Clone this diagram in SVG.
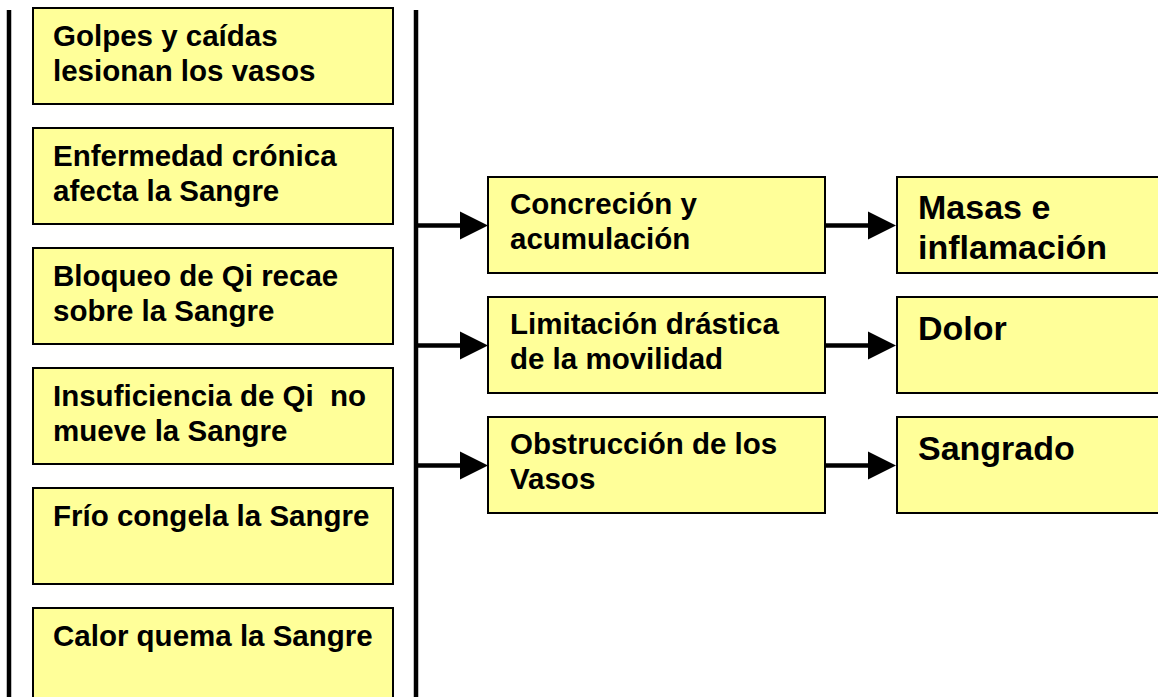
<svg xmlns="http://www.w3.org/2000/svg" width="1158" height="697" viewBox="0 0 1158 697">
<style>
.box{fill:#FFFF99;stroke:#000;stroke-width:2}
.t{font-family:"Liberation Sans",Arial,sans-serif;font-weight:bold;font-size:29.5px;fill:#000}
.tb{font-family:"Liberation Sans",Arial,sans-serif;font-weight:bold;font-size:34px;fill:#000}
.ln{stroke:#000;stroke-width:4.5;fill:none}
.ah{fill:#000}
</style>
<rect width="1158" height="697" fill="#fff"/>
<g id="connectors">
<line class="ln" x1="9" y1="10" x2="9" y2="697"/>
<line class="ln" x1="416" y1="10" x2="416" y2="697"/>
<line class="ln" x1="416" y1="225.5" x2="462" y2="225.5"/>
<polygon class="ah" points="460,211.5 488,225.5 460,239.5"/>
<line class="ln" x1="416" y1="345.5" x2="462" y2="345.5"/>
<polygon class="ah" points="460,331.5 488,345.5 460,359.5"/>
<line class="ln" x1="416" y1="465.5" x2="462" y2="465.5"/>
<polygon class="ah" points="460,451.5 488,465.5 460,479.5"/>
<line class="ln" x1="825" y1="225.5" x2="870" y2="225.5"/>
<polygon class="ah" points="868,211.5 896,225.5 868,239.5"/>
<line class="ln" x1="825" y1="345.5" x2="870" y2="345.5"/>
<polygon class="ah" points="868,331.5 896,345.5 868,359.5"/>
<line class="ln" x1="825" y1="465.5" x2="870" y2="465.5"/>
<polygon class="ah" points="868,451.5 896,465.5 868,479.5"/>
</g>
<g id="n1"><rect class="box" x="33" y="8" width="360" height="96"/><text class="t" x="53" y="45.5">Golpes y caídas</text><text class="t" x="53" y="80.5">lesionan los vasos</text></g>
<g id="n2"><rect class="box" x="33" y="128" width="360" height="96"/><text class="t" x="53" y="165.5">Enfermedad crónica</text><text class="t" x="53" y="200.5">afecta la Sangre</text></g>
<g id="n3"><rect class="box" x="33" y="248" width="360" height="96"/><text class="t" x="53" y="285.5">Bloqueo de Qi recae</text><text class="t" x="53" y="320.5">sobre la Sangre</text></g>
<g id="n4"><rect class="box" x="33" y="368" width="360" height="96"/><text class="t" x="53" y="405.5" xml:space="preserve">Insuficiencia de Qi  no</text><text class="t" x="53" y="440.5">mueve la Sangre</text></g>
<g id="n5"><rect class="box" x="33" y="488" width="360" height="96"/><text class="t" x="53" y="525.5">Frío congela la Sangre</text></g>
<g id="n6"><rect class="box" x="33" y="608" width="360" height="96"/><text class="t" x="53" y="645.5">Calor quema la Sangre</text></g>
<g id="m1"><rect class="box" x="488" y="177" width="337" height="96"/><text class="t" x="510" y="213.5">Concreción y</text><text class="t" x="510" y="249">acumulación</text></g>
<g id="m2"><rect class="box" x="488" y="297" width="337" height="96"/><text class="t" x="510" y="333.5">Limitación drástica</text><text class="t" x="510" y="369">de la movilidad</text></g>
<g id="m3"><rect class="box" x="488" y="417" width="337" height="96"/><text class="t" x="510" y="453.5">Obstrucción de los</text><text class="t" x="510" y="489">Vasos</text></g>
<g id="r1"><rect class="box" x="897" y="177" width="270" height="96"/><text class="tb" x="918" y="219">Masas e</text><text class="tb" x="918" y="258.5">inflamación</text></g>
<g id="r2"><rect class="box" x="897" y="297" width="270" height="96"/><text class="tb" x="918" y="340">Dolor</text></g>
<g id="r3"><rect class="box" x="897" y="417" width="270" height="96"/><text class="tb" x="918" y="460">Sangrado</text></g>
</svg>
